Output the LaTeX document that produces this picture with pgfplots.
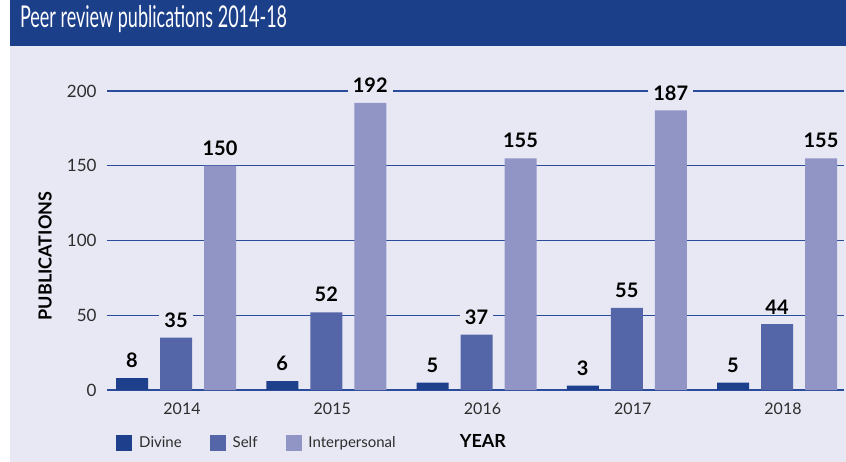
\documentclass[border=0pt]{standalone}
\usepackage{fontspec}
\setmainfont{Lato}
\usepackage{pgfplots}
\pgfplotsset{compat=1.18}
\definecolor{titleblue}{RGB}{28,63,138}
\definecolor{lav}{RGB}{232,232,244}
\definecolor{divine}{RGB}{29,63,140}
\definecolor{selfc}{RGB}{85,102,168}
\definecolor{inter}{RGB}{145,149,198}
\definecolor{gridc}{RGB}{43,75,155}
\definecolor{tickc}{RGB}{45,45,45}
\begin{document}
\begin{tikzpicture}
\useasboundingbox (0,0) rectangle (846bp,462bp);
\fill[lav] (10bp,0) rectangle (846bp,416bp);
\fill[titleblue] (10bp,416bp) rectangle (846bp,462bp);
\node[anchor=base west, inner sep=0pt, text=white, xscale=0.6, transform shape, font=\fontsize{30bp}{36bp}\selectfont] at (20bp,434bp) {Peer review publications 2014-18};
\begin{axis}[
  x=150.25bp, y=1.495bp,
  anchor=origin, at={(176bp,72bp)},
  xmin=-0.459, xmax=4.446, ymin=0, ymax=200,
  axis line style={draw=none},
  major tick length=0pt,
  ytick={0,50,100,150,200},
  xtick={0,1,2,3,4},
  xticklabels={2014,2015,2016,2017,2018},
  ymajorgrids, grid style={gridc, line width=1.1bp},
  /pgf/number format/assume math mode=true,
  ticklabel style={text=tickc, font=\fontsize{16bp}{19bp}\selectfont},
  yticklabel style={xshift=-7bp, font=\fontsize{17bp}{20bp}\selectfont},
  xticklabel style={yshift=-9bp, xshift=6bp},
  clip=false,
  ybar=12bp, bar width=32bp,
  nodes near coords,
  every node near coord/.append style={font=\bfseries\fontsize{20bp}{24bp}\selectfont, text=black, fill=lav, inner xsep=5bp, inner ysep=1bp, yshift=9bp},
  xlabel={YEAR},
  xlabel style={at={(axis description cs:0.510,-0.171)}, anchor=center, font=\bfseries\fontsize{18bp}{21bp}\selectfont, text=black},
  ylabel={PUBLICATIONS},
  ylabel style={at={(axis description cs:-0.084,0.448)}, anchor=center, rotate=0, font=\bfseries\fontsize{18bp}{21bp}\selectfont, text=black},
  legend columns=3,
  legend style={at={(axis description cs:0.0122,-0.177)}, anchor=west, draw=none, fill=none, inner sep=0pt,
    font=\fontsize{15bp}{18bp}\selectfont, text=tickc,
    /tikz/every odd column/.append style={column sep=5bp},
    /tikz/every even column/.append style={column sep=26bp}},
  legend image code/.code={\fill[#1] (0bp,-8bp) rectangle (16bp,8bp);},
]
\addplot[fill=divine, draw=none] coordinates {(0,8) (1,6) (2,5) (3,3) (4,5)};
\addplot[fill=selfc, draw=none] coordinates {(0,35) (1,52) (2,37) (3,55) (4,44)};
\addplot[fill=inter, draw=none] coordinates {(0,150) (1,192) (2,155) (3,187) (4,155)};
\legend{Divine, Self, Interpersonal}
\end{axis}
\end{tikzpicture}
\end{document}
